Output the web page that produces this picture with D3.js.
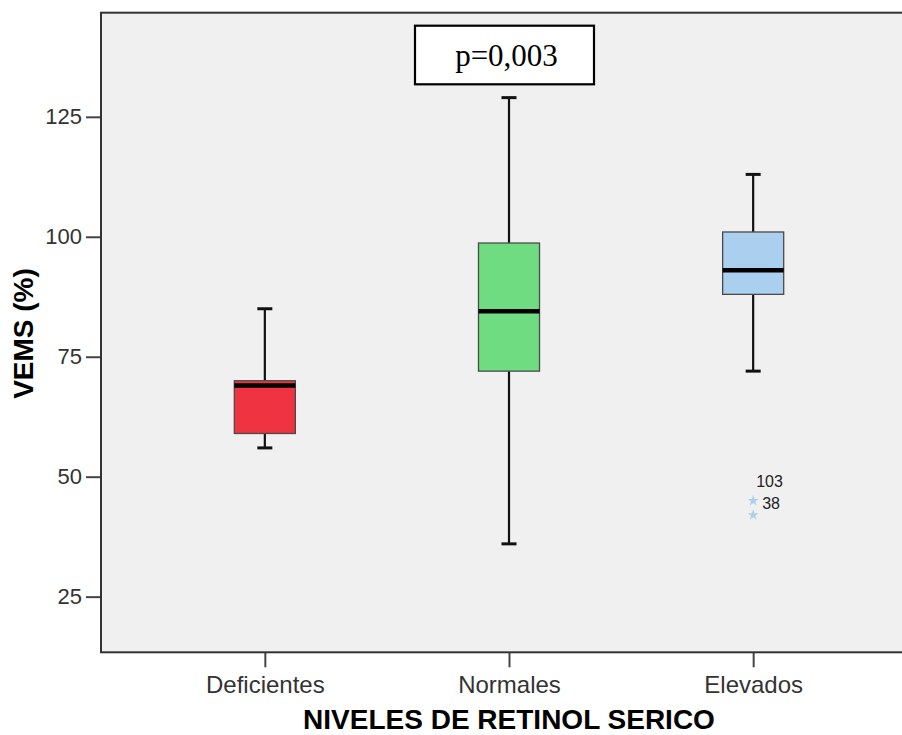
<!DOCTYPE html>
<html>
<head>
<meta charset="utf-8">
<script src="https://cdn.jsdelivr.net/npm/d3@7"></script>
<style>
  html, body { margin: 0; padding: 0; background: #ffffff; }
  svg { display: block; }
</style>
</head>
<body>
<svg id="chart" width="902" height="735"></svg>
<script>
// Serum retinol groups and the five-number summary of VEMS (%) for each
const categories = ["Deficientes", "Normales", "Elevados"];
const whiskerLow  = [56, 36, 72];
const quartile1   = [59, 72, 88];
const medians     = [69, 84.5, 93];
const quartile3   = [70, 98.7, 101];
const whiskerHigh = [85, 129, 113];
const boxColors   = ["#ef3340", "#70dc82", "#abcfee"];

// Extreme values (case number and value), by group
const outlierGroup  = ["Elevados", "Elevados"];
const outlierValues = [45, 42];
const outlierIds    = ["38", "103"];

const yTicks = [25, 50, 75, 100, 125];
const pLabel = "p=0,003";

const svg = d3.select("#chart");
const frame = { left: 101, right: 917, top: 12.7, bottom: 652.3 };

const x = d3.scalePoint()
  .domain(categories)
  .range([frame.left, frame.right])
  .padding(0.671);

const y = d3.scaleLinear()
  .domain([13.4, 146.7])
  .range([frame.bottom, frame.top]);

const boxW = x.step() * 0.25;
const capW = 15;

// plot background
svg.append("rect")
  .attr("x", frame.left).attr("y", frame.top)
  .attr("width", frame.right - frame.left)
  .attr("height", frame.bottom - frame.top)
  .attr("fill", "#f0f0f0");

// axes
const yAxis = d3.axisLeft(y).tickValues(yTicks).tickSize(15).tickPadding(4);
const gy = svg.append("g").attr("transform", `translate(${frame.left},0)`).call(yAxis);
gy.select(".domain").remove();
gy.selectAll(".tick line").attr("stroke", "#444").attr("stroke-width", 2);
gy.selectAll(".tick text")
  .attr("fill", "#333")
  .style("font-family", "'Liberation Sans', Arial, sans-serif")
  .style("font-size", "22px");

const xAxis = d3.axisBottom(x).tickSize(15).tickPadding(0);
const gx = svg.append("g").attr("transform", `translate(0,${frame.bottom})`).call(xAxis);
gx.select(".domain").remove();
gx.selectAll(".tick line").attr("stroke", "#444").attr("stroke-width", 2);
gx.selectAll(".tick text")
  .attr("fill", "#333")
  .attr("dy", null)
  .attr("y", 41)
  .style("font-family", "'Liberation Sans', Arial, sans-serif")
  .style("font-size", "24px");

// boxes
const groups = svg.append("g").selectAll("g")
  .data(categories.map((c, i) => ({
    c, lo: whiskerLow[i], q1: quartile1[i], med: medians[i],
    q3: quartile3[i], hi: whiskerHigh[i], color: boxColors[i]
  })))
  .join("g")
  .attr("transform", d => `translate(${x(d.c)},0)`);

// whiskers
groups.append("line")
  .attr("x1", 0).attr("x2", 0)
  .attr("y1", d => y(d.hi)).attr("y2", d => y(d.q3))
  .attr("stroke", "#111").attr("stroke-width", 2.2);
groups.append("line")
  .attr("x1", 0).attr("x2", 0)
  .attr("y1", d => y(d.q1)).attr("y2", d => y(d.lo))
  .attr("stroke", "#111").attr("stroke-width", 2.2);
groups.append("line")
  .attr("x1", -capW / 2).attr("x2", capW / 2)
  .attr("y1", d => y(d.hi)).attr("y2", d => y(d.hi))
  .attr("stroke", "#111").attr("stroke-width", 3);
groups.append("line")
  .attr("x1", -capW / 2).attr("x2", capW / 2)
  .attr("y1", d => y(d.lo)).attr("y2", d => y(d.lo))
  .attr("stroke", "#111").attr("stroke-width", 3);

// interquartile box
groups.append("rect")
  .attr("x", -boxW / 2).attr("width", boxW)
  .attr("y", d => y(d.q3))
  .attr("height", d => y(d.q1) - y(d.q3))
  .attr("fill", d => d.color)
  .attr("stroke", "#4a4a4a").attr("stroke-width", 1.3);

// median
groups.append("line")
  .attr("x1", -boxW / 2).attr("x2", boxW / 2)
  .attr("y1", d => y(d.med)).attr("y2", d => y(d.med))
  .attr("stroke", "#000").attr("stroke-width", 4.5);

// extreme values with case labels
const star = d3.symbol().type(d3.symbolStar).size(38);
const outliers = outlierValues.map((v, i) => ({
  c: outlierGroup[i], v, id: outlierIds[i],
  color: boxColors[categories.indexOf(outlierGroup[i])]
}));
svg.append("g").selectAll("path")
  .data(outliers)
  .join("path")
  .attr("d", star)
  .attr("transform", d => `translate(${x(d.c)},${y(d.v)})`)
  .attr("fill", d => d.color);

// labels sit beside their star; a colliding label is lifted above the previous one
const placed = [];
outliers.forEach(d => {
  let ly = y(d.v) + 4;
  let lx = x(d.c) + 9;
  const prev = placed.find(p => p.c === d.c && Math.abs(p.y - ly) < 18);
  if (prev) { ly = prev.y - 22; lx = x(d.c) + 3; }
  placed.push({ c: d.c, y: ly });
  svg.append("text")
    .attr("x", lx).attr("y", ly)
    .attr("dominant-baseline", "middle")
    .attr("fill", "#222")
    .style("font-family", "'Liberation Sans', Arial, sans-serif")
    .style("font-size", "16px")
    .text(d.id);
});

// significance box
const pBox = { x: 415, y: 25.7, w: 179, h: 58.6 };
svg.append("rect")
  .attr("x", pBox.x).attr("y", pBox.y)
  .attr("width", pBox.w).attr("height", pBox.h)
  .attr("fill", "#ffffff")
  .attr("stroke", "#000").attr("stroke-width", 2.2);
svg.append("text")
  .attr("x", pBox.x + pBox.w / 2 + 2)
  .attr("y", 66)
  .attr("text-anchor", "middle")
  .attr("fill", "#000")
  .style("font-family", "'Liberation Serif', 'Times New Roman', serif")
  .style("font-size", "31px")
  .text(pLabel);

// plot frame
svg.append("rect")
  .attr("x", frame.left).attr("y", frame.top)
  .attr("width", frame.right - frame.left)
  .attr("height", frame.bottom - frame.top)
  .attr("fill", "none")
  .attr("stroke", "#333").attr("stroke-width", 2);

// axis titles
svg.append("text")
  .attr("x", x("Normales"))
  .attr("y", 729)
  .attr("text-anchor", "middle")
  .attr("fill", "#000")
  .style("font-family", "'Liberation Sans', Arial, sans-serif")
  .style("font-weight", "bold")
  .style("font-size", "28px")
  .text("NIVELES DE RETINOL SERICO");

svg.append("text")
  .attr("transform", "translate(33,333.5) rotate(-90)")
  .attr("text-anchor", "middle")
  .attr("fill", "#000")
  .style("font-family", "'Liberation Sans', Arial, sans-serif")
  .style("font-weight", "bold")
  .style("font-size", "28px")
  .text("VEMS (%)");
</script>
</body>
</html>
